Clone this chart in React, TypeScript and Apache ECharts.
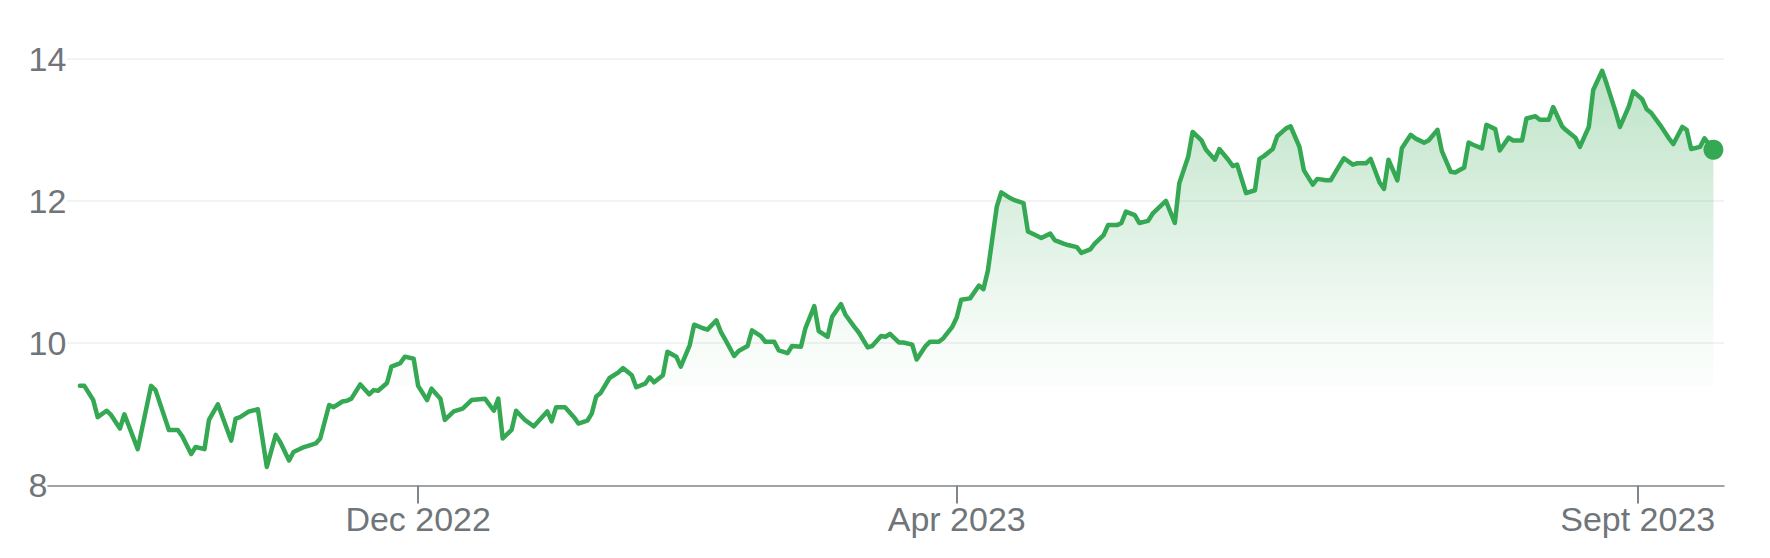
import { useEffect, useRef } from 'react';
import * as echarts from 'echarts';

// Day offsets are days since 2022-09-01
const BASE_DATE = '2022-09-01';
const tradeDays = [
  15, 16, 18, 19, 21, 22, 24, 25, 28, 31, 32, 35, 37, 38, 40, 41, 43, 44, 46, 49,
  50, 51, 53, 55, 57, 59, 60, 62, 63, 65, 67, 68, 69, 71, 72, 74, 75, 76, 78, 80,
  81, 82, 84, 85, 87, 88, 90, 91, 93, 94, 96, 97, 99, 101, 103, 106, 108, 109, 110, 112,
  113, 115, 117, 120, 121, 122, 124, 126, 127, 129, 130, 131, 132, 134, 136, 137, 139, 140, 142, 143,
  144, 146, 147, 149, 150, 152, 153, 155, 156, 158, 159, 160, 162, 163, 165, 166, 168, 169, 171, 172,
  174, 175, 177, 178, 180, 181, 183, 184, 186, 187, 189, 190, 192, 193, 195, 196, 197, 199, 200, 202,
  203, 205, 206, 208, 209, 211, 212, 213, 215, 217, 218, 219, 221, 222, 224, 225, 227, 228, 230, 231,
  233, 234, 236, 237, 239, 240, 242, 243, 245, 246, 248, 249, 250, 252, 253, 255, 256, 258, 259, 261,
  262, 264, 265, 267, 268, 270, 271, 273, 274, 275, 277, 279, 280, 281, 283, 284, 286, 287, 289, 290,
  292, 293, 295, 296, 298, 299, 301, 302, 304, 305, 307, 308, 309, 311, 312, 314, 315, 317, 318, 320,
  321, 323, 324, 326, 327, 328, 330, 331, 333, 334, 336, 337, 339, 340, 342, 343, 345, 346, 348, 349,
  351, 352, 354, 355, 357, 358, 360, 361, 363, 364, 366, 367, 368, 370, 372, 373, 375, 376, 377, 379,
  380, 382,
];
const closes = [
  9.40, 9.40, 9.20, 8.96, 9.05, 8.99, 8.80, 9.00, 8.51, 9.40, 9.34, 8.78, 8.78, 8.69, 8.44, 8.54, 8.51, 8.92, 9.14, 8.63,
  8.94, 8.96, 9.04, 9.07, 8.26, 8.71, 8.61, 8.35, 8.47, 8.53, 8.57, 8.59, 8.66, 9.13, 9.10, 9.18, 9.19, 9.22, 9.42, 9.28,
  9.34, 9.33, 9.44, 9.67, 9.72, 9.81, 9.78, 9.40, 9.20, 9.36, 9.22, 8.92, 9.04, 9.08, 9.20, 9.22, 9.05, 9.22, 8.66, 8.78,
  9.05, 8.92, 8.83, 9.04, 8.90, 9.10, 9.10, 8.96, 8.87, 8.91, 9.01, 9.25, 9.30, 9.51, 9.59, 9.65, 9.55, 9.38, 9.43, 9.52,
  9.45, 9.55, 9.88, 9.81, 9.67, 9.97, 10.26, 10.21, 10.19, 10.32, 10.16, 10.05, 9.82, 9.89, 9.96, 10.18, 10.10, 10.02, 10.02, 9.90,
  9.86, 9.96, 9.95, 10.21, 10.52, 10.17, 10.09, 10.37, 10.55, 10.40, 10.23, 10.15, 9.94, 9.96, 10.10, 10.09, 10.13, 10.01, 10.01, 9.98,
  9.77, 9.96, 10.02, 10.02, 10.07, 10.23, 10.36, 10.61, 10.63, 10.81, 10.76, 11.02, 11.92, 12.12, 12.04, 12.01, 11.97, 11.57, 11.51, 11.48,
  11.54, 11.45, 11.40, 11.38, 11.35, 11.27, 11.32, 11.40, 11.52, 11.66, 11.66, 11.69, 11.85, 11.80, 11.69, 11.72, 11.82, 11.94, 12.00, 11.69,
  12.25, 12.62, 12.97, 12.85, 12.72, 12.58, 12.73, 12.58, 12.49, 12.51, 12.11, 12.15, 12.59, 12.63, 12.73, 12.91, 13.02, 13.05, 12.76, 12.43,
  12.23, 12.31, 12.29, 12.29, 12.50, 12.60, 12.51, 12.53, 12.53, 12.59, 12.26, 12.17, 12.58, 12.29, 12.74, 12.93, 12.88, 12.82, 12.85, 13.00,
  12.70, 12.41, 12.40, 12.47, 12.82, 12.79, 12.74, 13.07, 13.01, 12.71, 12.89, 12.85, 12.85, 13.16, 13.19, 13.14, 13.14, 13.32, 13.05, 12.99,
  12.89, 12.76, 13.04, 13.56, 13.83, 13.65, 13.26, 13.04, 13.33, 13.54, 13.43, 13.29, 13.24, 13.07, 12.88, 12.80, 13.04, 13.00, 12.73, 12.76,
  12.88, 12.72,
];

const yTicks = [8, 10, 12, 14];
const xTickDates = ['2022-12-01', '2023-04-01', '2023-09-01'];
const xTickLabels = ['Dec 2022', 'Apr 2023', 'Sept 2023'];

const DAY_MS = 86400000;
const dayOf = (s: string) => Math.round((Date.parse(s) - Date.parse(BASE_DATE)) / DAY_MS);

const GREEN = '#34a853';
const FONT = "'Liberation Sans', Arial, sans-serif";

export default function App() {
  const ref = useRef<HTMLDivElement>(null);

  useEffect(() => {
    if (!ref.current) return;
    const chart = echarts.init(ref.current, null, { renderer: 'svg' });

    const tickDays = xTickDates.map(dayOf);
    const maxV = Math.max(...closes);
    const span = maxV - yTicks[0];
    const off10 = (maxV - 10) / span;
    const offCut = (maxV - 9.4) / span;

    const gridTop = 58.7;
    const gridBottom = 72.6;

    chart.setOption({
      animation: false,
      backgroundColor: '#ffffff',
      grid: [
        { left: 48, right: 46, top: gridTop, bottom: gridBottom },
        { left: 67, right: 46, top: gridTop, bottom: gridBottom },
      ],
      xAxis: [
        {
          type: 'value',
          gridIndex: 0,
          min: 7.84,
          max: 384.38,
          axisLine: { show: true, lineStyle: { color: '#80868b', width: 1.5 } },
          axisTick: {
            show: true,
            customValues: tickDays,
            length: 18,
            lineStyle: { color: '#80868b', width: 2 },
          },
          axisLabel: {
            show: true,
            customValues: tickDays,
            margin: 17,
            fontSize: 34,
            fontFamily: FONT,
            color: '#70757a',
            formatter: (v: number) => {
              const i = tickDays.findIndex((d) => Math.abs(d - v) < 0.5);
              return i >= 0 ? xTickLabels[i] : '';
            },
          },
          splitLine: { show: false },
        },
        {
          type: 'value',
          gridIndex: 1,
          min: 0,
          max: 1,
          show: false,
        },
      ],
      yAxis: [
        {
          type: 'value',
          gridIndex: 0,
          min: yTicks[0],
          max: yTicks[yTicks.length - 1],
          interval: 2,
          axisLine: { show: false },
          axisTick: { show: false },
          splitLine: { show: false },
          axisLabel: {
            show: true,
            align: 'left',
            margin: 19.5,
            fontSize: 34,
            fontFamily: FONT,
            color: '#70757a',
          },
        },
        {
          type: 'value',
          gridIndex: 1,
          min: yTicks[0],
          max: yTicks[yTicks.length - 1],
          interval: 2,
          axisLine: { show: false },
          axisTick: { show: false },
          axisLabel: { show: false },
          splitLine: {
            show: true,
            showMinLine: false,
            lineStyle: { color: '#efefef', width: 1.5 },
          },
        },
      ],
      series: [
        {
          type: 'line',
          xAxisIndex: 0,
          yAxisIndex: 0,
          data: tradeDays.map((d, i) => [d, closes[i]]),
          showSymbol: false,
          symbol: 'none',
          lineStyle: { color: GREEN, width: 4.5, join: 'round', cap: 'round' },
          areaStyle: {
            origin: 'start',
            opacity: 1,
            color: new echarts.graphic.LinearGradient(0, 0, 0, 1, [
              { offset: 0, color: 'rgba(52,168,83,0.32)' },
              { offset: off10, color: 'rgba(52,168,83,0.04)' },
              { offset: offCut, color: 'rgba(52,168,83,0.015)' },
              { offset: Math.min(1, offCut + 0.002), color: 'rgba(52,168,83,0)' },
              { offset: 1, color: 'rgba(52,168,83,0)' },
            ]),
          },
          z: 3,
        },
        {
          type: 'scatter',
          xAxisIndex: 0,
          yAxisIndex: 0,
          data: [[tradeDays[tradeDays.length - 1], closes[closes.length - 1]]],
          symbolSize: 20,
          itemStyle: { color: GREEN, opacity: 1 },
          z: 4,
        },
      ],
    });

    return () => chart.dispose();
  }, []);

  return (
    <div
      ref={ref}
      style={{ position: 'absolute', left: 0, top: 0, width: 1770, height: 558 }}
    />
  );
}
